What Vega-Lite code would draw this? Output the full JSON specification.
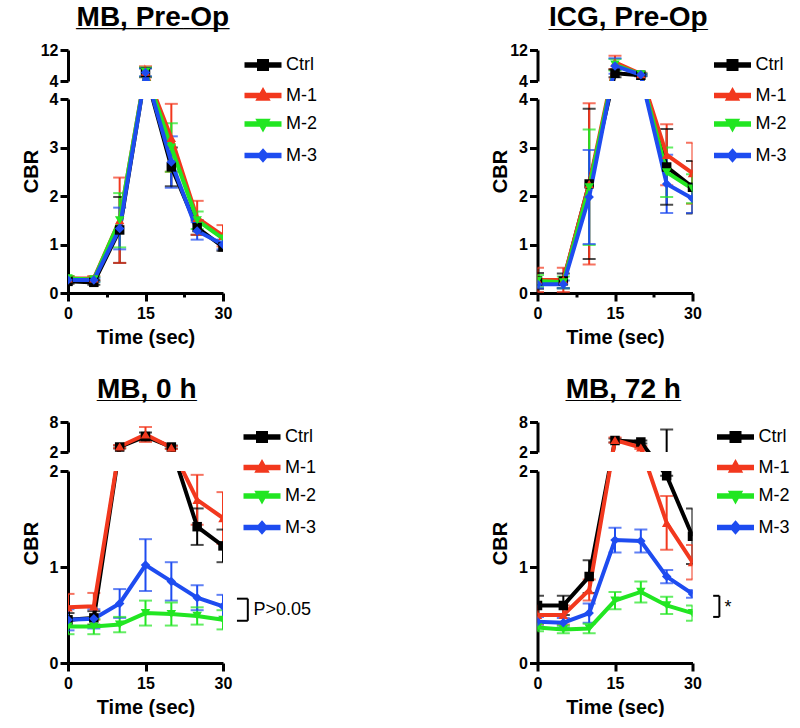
{
"$schema": "https://vega.github.io/schema/vega-lite/v6.json",
"padding": {"left": 21, "top": 4, "right": 0, "bottom": 0},
"background": "white",
"config": {
  "view": {"stroke": null},
  "font": "Liberation Sans",
  "line": {"strokeWidth": 4},
  "rule": {"strokeWidth": 2},
  "point": {"size": 90, "filled": true, "opacity": 1, "strokeWidth": 0},
  "axis": {"domainColor": "black", "domainWidth": 3, "tickColor": "black", "tickWidth": 3, "tickSize": 8, "labelFont": "Liberation Sans", "labelFontSize": 16, "labelFontWeight": "bold", "labelColor": "black", "labelPadding": 2, "titleFont": "Liberation Sans", "titleFontSize": 20, "titleFontWeight": "bold", "titleColor": "black", "grid": false, "labelFlush": false, "labelOverlap": false},
  "title": {"font": "Liberation Sans", "fontSize": 28, "fontWeight": "bold", "color": "black", "anchor": "middle", "subtitleFont": "Liberation Sans", "subtitleFontWeight": "bold", "subtitleColor": "black"},
  "legend": {"labelFont": "Liberation Sans", "labelFontSize": 18, "labelColor": "black", "labelFontWeight": "normal"}
},
"datasets": {
  "A": [
    {"s":"Ctrl","t":0,"v":0.24,"lo":0.19,"hi":0.29},{"s":"Ctrl","t":5,"v":0.22,"lo":0.17,"hi":0.27},{"s":"Ctrl","t":10,"v":1.3,"lo":0.62,"hi":1.98},{"s":"Ctrl","t":15,"v":6.2,"lo":5.0,"hi":7.4},{"s":"Ctrl","t":20,"v":2.6,"lo":2.2,"hi":3.0},{"s":"Ctrl","t":25,"v":1.35,"lo":1.2,"hi":1.5},{"s":"Ctrl","t":30,"v":0.95,"lo":0.87,"hi":1.03},
    {"s":"M-1","t":0,"v":0.3,"lo":0.25,"hi":0.35},{"s":"M-1","t":5,"v":0.3,"lo":0.25,"hi":0.35},{"s":"M-1","t":10,"v":1.5,"lo":0.62,"hi":2.38},{"s":"M-1","t":15,"v":6.4,"lo":5.0,"hi":7.8},{"s":"M-1","t":20,"v":3.2,"lo":2.5,"hi":3.9},{"s":"M-1","t":25,"v":1.55,"lo":1.2,"hi":1.9},{"s":"M-1","t":30,"v":1.18,"lo":0.96,"hi":1.4},
    {"s":"M-2","t":0,"v":0.3,"lo":0.25,"hi":0.35},{"s":"M-2","t":5,"v":0.28,"lo":0.23,"hi":0.33},{"s":"M-2","t":10,"v":1.5,"lo":0.94,"hi":2.06},{"s":"M-2","t":15,"v":6.3,"lo":5.1,"hi":7.5},{"s":"M-2","t":20,"v":3.0,"lo":2.5,"hi":3.5},{"s":"M-2","t":25,"v":1.5,"lo":1.32,"hi":1.68},{"s":"M-2","t":30,"v":1.12,"lo":1.04,"hi":1.2},
    {"s":"M-3","t":0,"v":0.27,"lo":0.23,"hi":0.31},{"s":"M-3","t":5,"v":0.27,"lo":0.23,"hi":0.31},{"s":"M-3","t":10,"v":1.33,"lo":0.9,"hi":1.76},{"s":"M-3","t":15,"v":6.2,"lo":5.2,"hi":7.2},{"s":"M-3","t":20,"v":2.7,"lo":2.17,"hi":3.23},{"s":"M-3","t":25,"v":1.28,"lo":1.1,"hi":1.46},{"s":"M-3","t":30,"v":1.0,"lo":0.9,"hi":1.1}
  ],
  "B": [
    {"s":"Ctrl","t":0,"v":0.25,"lo":0.09,"hi":0.41},{"s":"Ctrl","t":5,"v":0.25,"lo":0.1,"hi":0.4},{"s":"Ctrl","t":10,"v":2.25,"lo":0.7,"hi":3.8},{"s":"Ctrl","t":15,"v":6.0,"lo":5.0,"hi":7.0},{"s":"Ctrl","t":20,"v":5.5,"lo":5.2,"hi":5.8},{"s":"Ctrl","t":25,"v":2.6,"lo":1.82,"hi":3.38},{"s":"Ctrl","t":30,"v":2.18,"lo":1.64,"hi":2.72},
    {"s":"M-1","t":0,"v":0.27,"lo":0.02,"hi":0.52},{"s":"M-1","t":5,"v":0.27,"lo":0.02,"hi":0.52},{"s":"M-1","t":10,"v":2.25,"lo":0.59,"hi":3.91},{"s":"M-1","t":15,"v":8.8,"lo":7.1,"hi":10.5},{"s":"M-1","t":20,"v":5.8,"lo":5.5,"hi":6.1},{"s":"M-1","t":25,"v":2.85,"lo":2.22,"hi":3.48},{"s":"M-1","t":30,"v":2.47,"lo":1.84,"hi":3.1},
    {"s":"M-2","t":0,"v":0.25,"lo":0.13,"hi":0.37},{"s":"M-2","t":5,"v":0.22,"lo":0.1,"hi":0.34},{"s":"M-2","t":10,"v":2.18,"lo":0.99,"hi":3.37},{"s":"M-2","t":15,"v":8.2,"lo":6.7,"hi":9.7},{"s":"M-2","t":20,"v":5.7,"lo":5.4,"hi":6.0},{"s":"M-2","t":25,"v":2.49,"lo":1.98,"hi":3.0},{"s":"M-2","t":30,"v":2.15,"lo":1.85,"hi":2.45},
    {"s":"M-3","t":0,"v":0.18,"lo":0.1,"hi":0.26},{"s":"M-3","t":5,"v":0.18,"lo":0.1,"hi":0.26},{"s":"M-3","t":10,"v":1.98,"lo":1.01,"hi":2.95},{"s":"M-3","t":15,"v":7.9,"lo":5.9,"hi":9.9},{"s":"M-3","t":20,"v":5.6,"lo":5.3,"hi":5.9},{"s":"M-3","t":25,"v":2.25,"lo":1.65,"hi":2.85},{"s":"M-3","t":30,"v":1.95,"lo":1.65,"hi":2.25}
  ],
  "C": [
    {"s":"Ctrl","t":0,"v":0.45,"lo":0.38,"hi":0.52},{"s":"Ctrl","t":5,"v":0.47,"lo":0.4,"hi":0.54},{"s":"Ctrl","t":10,"v":3.0,"lo":2.7,"hi":3.3},{"s":"Ctrl","t":15,"v":5.1,"lo":4.3,"hi":5.9},{"s":"Ctrl","t":20,"v":3.0,"lo":2.7,"hi":3.3},{"s":"Ctrl","t":25,"v":1.42,"lo":1.23,"hi":1.61},{"s":"Ctrl","t":30,"v":1.22,"lo":1.05,"hi":1.39},
    {"s":"M-1","t":0,"v":0.58,"lo":0.44,"hi":0.72},{"s":"M-1","t":5,"v":0.59,"lo":0.45,"hi":0.73},{"s":"M-1","t":10,"v":3.1,"lo":2.8,"hi":3.4},{"s":"M-1","t":15,"v":5.5,"lo":4.0,"hi":7.0},{"s":"M-1","t":20,"v":2.9,"lo":2.6,"hi":3.2},{"s":"M-1","t":25,"v":1.7,"lo":1.44,"hi":1.96},{"s":"M-1","t":30,"v":1.51,"lo":1.24,"hi":1.78},
    {"s":"M-2","t":0,"v":0.38,"lo":0.3,"hi":0.46},{"s":"M-2","t":5,"v":0.38,"lo":0.3,"hi":0.46},{"s":"M-2","t":10,"v":0.4,"lo":0.32,"hi":0.48},{"s":"M-2","t":15,"v":0.52,"lo":0.39,"hi":0.65},{"s":"M-2","t":20,"v":0.51,"lo":0.39,"hi":0.63},{"s":"M-2","t":25,"v":0.49,"lo":0.4,"hi":0.58},{"s":"M-2","t":30,"v":0.45,"lo":0.35,"hi":0.55},
    {"s":"M-3","t":0,"v":0.45,"lo":0.34,"hi":0.56},{"s":"M-3","t":5,"v":0.46,"lo":0.36,"hi":0.56},{"s":"M-3","t":10,"v":0.62,"lo":0.47,"hi":0.77},{"s":"M-3","t":15,"v":1.02,"lo":0.75,"hi":1.29},{"s":"M-3","t":20,"v":0.85,"lo":0.65,"hi":1.05},{"s":"M-3","t":25,"v":0.68,"lo":0.55,"hi":0.81},{"s":"M-3","t":30,"v":0.59,"lo":0.47,"hi":0.71}
  ],
  "D": [
    {"s":"Ctrl","t":0,"v":0.6,"lo":0.5,"hi":0.7},{"s":"Ctrl","t":5,"v":0.6,"lo":0.5,"hi":0.7},{"s":"Ctrl","t":10,"v":0.9,"lo":0.73,"hi":1.07},{"s":"Ctrl","t":15,"v":4.3,"lo":3.9,"hi":4.7},{"s":"Ctrl","t":20,"v":4.0,"lo":3.7,"hi":4.3},{"s":"Ctrl","t":25,"v":1.95,"lo":1.95,"hi":6.5},{"s":"Ctrl","t":30,"v":1.32,"lo":1.03,"hi":1.61},
    {"s":"M-1","t":0,"v":0.5,"lo":0.4,"hi":0.6},{"s":"M-1","t":5,"v":0.5,"lo":0.4,"hi":0.6},{"s":"M-1","t":10,"v":0.76,"lo":0.65,"hi":0.87},{"s":"M-1","t":15,"v":4.4,"lo":3.9,"hi":4.9},{"s":"M-1","t":20,"v":2.9,"lo":2.6,"hi":3.2},{"s":"M-1","t":25,"v":1.46,"lo":1.18,"hi":1.74},{"s":"M-1","t":30,"v":1.05,"lo":0.87,"hi":1.23},
    {"s":"M-2","t":0,"v":0.37,"lo":0.33,"hi":0.41},{"s":"M-2","t":5,"v":0.35,"lo":0.31,"hi":0.39},{"s":"M-2","t":10,"v":0.36,"lo":0.31,"hi":0.41},{"s":"M-2","t":15,"v":0.65,"lo":0.56,"hi":0.74},{"s":"M-2","t":20,"v":0.74,"lo":0.63,"hi":0.85},{"s":"M-2","t":25,"v":0.6,"lo":0.51,"hi":0.69},{"s":"M-2","t":30,"v":0.52,"lo":0.44,"hi":0.6},
    {"s":"M-3","t":0,"v":0.43,"lo":0.38,"hi":0.48},{"s":"M-3","t":5,"v":0.42,"lo":0.37,"hi":0.47},{"s":"M-3","t":10,"v":0.52,"lo":0.42,"hi":0.62},{"s":"M-3","t":15,"v":1.28,"lo":1.15,"hi":1.41},{"s":"M-3","t":20,"v":1.27,"lo":1.15,"hi":1.39},{"s":"M-3","t":25,"v":0.9,"lo":0.83,"hi":0.97},{"s":"M-3","t":30,"v":0.72,"lo":0.68,"hi":0.76}
  ]
},
"columns": 2,
"spacing": {"column": 167.5, "row": 29},
"resolve": {"scale": {"color": "independent", "shape": "independent"}, "legend": {"color": "independent", "shape": "independent"}},
"concat": [
 {
  "title": {"text": "MB, Pre-Op", "subtitle": "__________", "subtitleFontSize": 27.5, "subtitlePadding": -28, "offset": 10, "dx": -19.25},
  "spacing": 18, "bounds": "flush",
  "vconcat": [
   {
    "width": 155, "height": 31, "data": {"name": "A"},
    "layer": [
     {"encoding": {
        "x": {"field": "t", "type": "quantitative", "scale": {"domain": [0, 30], "nice": false, "zero": false}, "axis": null},
        "color": {"field": "s", "type": "nominal", "scale": {"domain": ["Ctrl","M-1","M-2","M-3"], "range": ["#000000","#F2381E","#22E622","#1E4CF0"]}}
      },
      "layer": [
       {"mark": {"type": "rule", "clip": true}, "encoding": {"y": {"field": "lo", "type": "quantitative", "scale": {"domain": [0, 3.9999, 4, 12], "range": [243, 49, 31, 0], "nice": false, "zero": false}, "axis": null}, "y2": {"field": "hi"}}},
       {"mark": {"type": "tick", "orient": "horizontal", "size": 13, "thickness": 2, "clip": true}, "encoding": {"y": {"field": "lo", "type": "quantitative", "scale": {"domain": [0, 3.9999, 4, 12], "range": [243, 49, 31, 0], "nice": false, "zero": false}, "axis": null}}},
       {"mark": {"type": "tick", "orient": "horizontal", "size": 13, "thickness": 2, "clip": true}, "encoding": {"y": {"field": "hi", "type": "quantitative", "scale": {"domain": [0, 3.9999, 4, 12], "range": [243, 49, 31, 0], "nice": false, "zero": false}, "axis": null}}},
       {"mark": {"type": "line", "clip": true}, "encoding": {"y": {"field": "v", "type": "quantitative", "scale": {"domain": [0, 3.9999, 4, 12], "range": [243, 49, 31, 0], "nice": false, "zero": false}, "axis": null}}}
      ]
     },
     {"encoding": {
        "x": {"field": "t", "type": "quantitative", "scale": {"domain": [0, 30], "nice": false, "zero": false}, "axis": null},
        "y": {"field": "v", "type": "quantitative", "scale": {"domain": [4, 12], "nice": false, "zero": false}, "axis": {"values": [4, 12], "title": null, "format": "d"}},
        "color": {"field": "s", "type": "nominal", "scale": {"domain": ["Ctrl","M-1","M-2","M-3"], "range": ["#000000","#F2381E","#22E622","#1E4CF0"]},
          "legend": {"title": null, "orient": "right", "offset": 15.5, "padding": 6, "symbolSize": 100, "symbolStrokeWidth": 0, "symbolOpacity": 1, "rowPadding": 10.5, "labelOffset": 14}}
      },
      "layer": [
       {"mark": {"type": "point", "opacity": 0, "clip": true}, "encoding": {"shape": {"field": "s", "type": "nominal", "scale": {"domain": ["Ctrl","M-1","M-2","M-3"], "range": ["M-3.5,-0.35H3.5V0.35H-3.5Z M-1,-1H1V1H-1Z", "M-3.5,-0.35H3.5V0.35H-3.5Z M0,-1.3L1.2,0.85H-1.2Z", "M-3.5,-0.35H3.5V0.35H-3.5Z M-1.2,-0.85H1.2L0,1.3Z", "M-3.5,-0.35H3.5V0.35H-3.5Z M0,-1.15L1,0L0,1.15L-1,0Z"]}, "legend": null}}},
       {"mark": {"type": "point", "shape": "square", "clip": true}, "transform": [{"filter": "datum.s === 'Ctrl' && datum.v >= 4"}]},
       {"mark": {"type": "point", "shape": "triangle-up", "clip": true}, "transform": [{"filter": "datum.s === 'M-1' && datum.v >= 4"}]},
       {"mark": {"type": "point", "shape": "triangle-down", "clip": true}, "transform": [{"filter": "datum.s === 'M-2' && datum.v >= 4"}]},
       {"mark": {"type": "point", "shape": "diamond", "clip": true}, "transform": [{"filter": "datum.s === 'M-3' && datum.v >= 4"}]}
      ]
     }
    ],
    "resolve": {"scale": {"y": "independent"}}
   },
   {
    "width": 155, "height": 194, "data": {"name": "A"},
    "layer": [
     {"encoding": {
        "x": {"field": "t", "type": "quantitative", "scale": {"domain": [0, 30], "nice": false, "zero": false}, "axis": {"values": [0, 7.5, 15, 22.5, 30], "labelExpr": "datum.value % 15 === 0 ? datum.label : ''", "tickSize": {"condition": {"test": "datum.value % 15 === 0", "value": 8}, "value": 4}, "title": "Time (sec)", "labelPadding": 4, "titlePadding": 6}},
        "color": {"field": "s", "type": "nominal", "scale": {"domain": ["Ctrl","M-1","M-2","M-3"], "range": ["#000000","#F2381E","#22E622","#1E4CF0"]}}
      },
      "layer": [
       {"mark": {"type": "rule", "clip": true}, "encoding": {"y": {"field": "lo", "type": "quantitative", "scale": {"domain": [0, 4, 4.0001, 12], "range": [194, 0, -18, -49], "nice": false, "zero": false}, "axis": null}, "y2": {"field": "hi"}}},
       {"mark": {"type": "tick", "orient": "horizontal", "size": 13, "thickness": 2, "clip": true}, "encoding": {"y": {"field": "lo", "type": "quantitative", "scale": {"domain": [0, 4, 4.0001, 12], "range": [194, 0, -18, -49], "nice": false, "zero": false}, "axis": null}}},
       {"mark": {"type": "tick", "orient": "horizontal", "size": 13, "thickness": 2, "clip": true}, "encoding": {"y": {"field": "hi", "type": "quantitative", "scale": {"domain": [0, 4, 4.0001, 12], "range": [194, 0, -18, -49], "nice": false, "zero": false}, "axis": null}}},
       {"mark": {"type": "line", "clip": true}, "encoding": {"y": {"field": "v", "type": "quantitative", "scale": {"domain": [0, 4, 4.0001, 12], "range": [194, 0, -18, -49], "nice": false, "zero": false}, "axis": null}}}
      ]
     },
     {"encoding": {
        "x": {"field": "t", "type": "quantitative", "scale": {"domain": [0, 30], "nice": false, "zero": false}, "axis": {"values": [0, 7.5, 15, 22.5, 30], "labelExpr": "datum.value % 15 === 0 ? datum.label : ''", "tickSize": {"condition": {"test": "datum.value % 15 === 0", "value": 8}, "value": 4}, "title": "Time (sec)", "labelPadding": 4, "titlePadding": 6}},
        "y": {"field": "v", "type": "quantitative", "scale": {"domain": [0, 4], "nice": false, "zero": false}, "axis": {"values": [0, 1, 2, 3, 4], "format": ".0f", "title": "CBR", "titleY": 72, "titlePadding": 8}},
        "color": {"field": "s", "type": "nominal", "scale": {"domain": ["Ctrl","M-1","M-2","M-3"], "range": ["#000000","#F2381E","#22E622","#1E4CF0"]}}
      },
      "layer": [
       {"mark": {"type": "point", "opacity": 0, "clip": true}, "encoding": {"shape": {"field": "s", "type": "nominal", "scale": {"domain": ["Ctrl","M-1","M-2","M-3"], "range": ["M-3.5,-0.35H3.5V0.35H-3.5Z M-1,-1H1V1H-1Z", "M-3.5,-0.35H3.5V0.35H-3.5Z M0,-1.3L1.2,0.85H-1.2Z", "M-3.5,-0.35H3.5V0.35H-3.5Z M-1.2,-0.85H1.2L0,1.3Z", "M-3.5,-0.35H3.5V0.35H-3.5Z M0,-1.15L1,0L0,1.15L-1,0Z"]}, "legend": null}}},
       {"mark": {"type": "point", "shape": "square", "clip": true}, "transform": [{"filter": "datum.s === 'Ctrl' && datum.v <= 4"}]},
       {"mark": {"type": "point", "shape": "triangle-up", "clip": true}, "transform": [{"filter": "datum.s === 'M-1' && datum.v <= 4"}]},
       {"mark": {"type": "point", "shape": "triangle-down", "clip": true}, "transform": [{"filter": "datum.s === 'M-2' && datum.v <= 4"}]},
       {"mark": {"type": "point", "shape": "diamond", "clip": true}, "transform": [{"filter": "datum.s === 'M-3' && datum.v <= 4"}]}
      ]
     }
    ],
    "resolve": {"scale": {"y": "independent"}}
   }
  ]
 },
 {
  "title": {"text": "ICG, Pre-Op", "subtitle": "___________", "subtitleFontSize": 26, "subtitlePadding": -26.5, "offset": 10, "dx": -13.25},
  "spacing": 18, "bounds": "flush",
  "vconcat": [
   {
    "width": 155, "height": 31, "data": {"name": "B"},
    "layer": [
     {"encoding": {
        "x": {"field": "t", "type": "quantitative", "scale": {"domain": [0, 30], "nice": false, "zero": false}, "axis": null},
        "color": {"field": "s", "type": "nominal", "scale": {"domain": ["Ctrl","M-1","M-2","M-3"], "range": ["#000000","#F2381E","#22E622","#1E4CF0"]}}
      },
      "layer": [
       {"mark": {"type": "rule", "clip": true}, "encoding": {"y": {"field": "lo", "type": "quantitative", "scale": {"domain": [0, 3.9999, 4, 12], "range": [243, 49, 31, 0], "nice": false, "zero": false}, "axis": null}, "y2": {"field": "hi"}}},
       {"mark": {"type": "tick", "orient": "horizontal", "size": 13, "thickness": 2, "clip": true}, "encoding": {"y": {"field": "lo", "type": "quantitative", "scale": {"domain": [0, 3.9999, 4, 12], "range": [243, 49, 31, 0], "nice": false, "zero": false}, "axis": null}}},
       {"mark": {"type": "tick", "orient": "horizontal", "size": 13, "thickness": 2, "clip": true}, "encoding": {"y": {"field": "hi", "type": "quantitative", "scale": {"domain": [0, 3.9999, 4, 12], "range": [243, 49, 31, 0], "nice": false, "zero": false}, "axis": null}}},
       {"mark": {"type": "line", "clip": true}, "encoding": {"y": {"field": "v", "type": "quantitative", "scale": {"domain": [0, 3.9999, 4, 12], "range": [243, 49, 31, 0], "nice": false, "zero": false}, "axis": null}}}
      ]
     },
     {"encoding": {
        "x": {"field": "t", "type": "quantitative", "scale": {"domain": [0, 30], "nice": false, "zero": false}, "axis": null},
        "y": {"field": "v", "type": "quantitative", "scale": {"domain": [4, 12], "nice": false, "zero": false}, "axis": {"values": [4, 12], "title": null, "format": "d"}},
        "color": {"field": "s", "type": "nominal", "scale": {"domain": ["Ctrl","M-1","M-2","M-3"], "range": ["#000000","#F2381E","#22E622","#1E4CF0"]},
          "legend": {"title": null, "orient": "right", "offset": 15.5, "padding": 6, "symbolSize": 100, "symbolStrokeWidth": 0, "symbolOpacity": 1, "rowPadding": 10.5, "labelOffset": 14}}
      },
      "layer": [
       {"mark": {"type": "point", "opacity": 0, "clip": true}, "encoding": {"shape": {"field": "s", "type": "nominal", "scale": {"domain": ["Ctrl","M-1","M-2","M-3"], "range": ["M-3.5,-0.35H3.5V0.35H-3.5Z M-1,-1H1V1H-1Z", "M-3.5,-0.35H3.5V0.35H-3.5Z M0,-1.3L1.2,0.85H-1.2Z", "M-3.5,-0.35H3.5V0.35H-3.5Z M-1.2,-0.85H1.2L0,1.3Z", "M-3.5,-0.35H3.5V0.35H-3.5Z M0,-1.15L1,0L0,1.15L-1,0Z"]}, "legend": null}}},
       {"mark": {"type": "point", "shape": "square", "clip": true}, "transform": [{"filter": "datum.s === 'Ctrl' && datum.v >= 4"}]},
       {"mark": {"type": "point", "shape": "triangle-up", "clip": true}, "transform": [{"filter": "datum.s === 'M-1' && datum.v >= 4"}]},
       {"mark": {"type": "point", "shape": "triangle-down", "clip": true}, "transform": [{"filter": "datum.s === 'M-2' && datum.v >= 4"}]},
       {"mark": {"type": "point", "shape": "diamond", "clip": true}, "transform": [{"filter": "datum.s === 'M-3' && datum.v >= 4"}]}
      ]
     }
    ],
    "resolve": {"scale": {"y": "independent"}}
   },
   {
    "width": 155, "height": 194, "data": {"name": "B"},
    "layer": [
     {"encoding": {
        "x": {"field": "t", "type": "quantitative", "scale": {"domain": [0, 30], "nice": false, "zero": false}, "axis": {"values": [0, 7.5, 15, 22.5, 30], "labelExpr": "datum.value % 15 === 0 ? datum.label : ''", "tickSize": {"condition": {"test": "datum.value % 15 === 0", "value": 8}, "value": 4}, "title": "Time (sec)", "labelPadding": 4, "titlePadding": 6}},
        "color": {"field": "s", "type": "nominal", "scale": {"domain": ["Ctrl","M-1","M-2","M-3"], "range": ["#000000","#F2381E","#22E622","#1E4CF0"]}}
      },
      "layer": [
       {"mark": {"type": "rule", "clip": true}, "encoding": {"y": {"field": "lo", "type": "quantitative", "scale": {"domain": [0, 4, 4.0001, 12], "range": [194, 0, -18, -49], "nice": false, "zero": false}, "axis": null}, "y2": {"field": "hi"}}},
       {"mark": {"type": "tick", "orient": "horizontal", "size": 13, "thickness": 2, "clip": true}, "encoding": {"y": {"field": "lo", "type": "quantitative", "scale": {"domain": [0, 4, 4.0001, 12], "range": [194, 0, -18, -49], "nice": false, "zero": false}, "axis": null}}},
       {"mark": {"type": "tick", "orient": "horizontal", "size": 13, "thickness": 2, "clip": true}, "encoding": {"y": {"field": "hi", "type": "quantitative", "scale": {"domain": [0, 4, 4.0001, 12], "range": [194, 0, -18, -49], "nice": false, "zero": false}, "axis": null}}},
       {"mark": {"type": "line", "clip": true}, "encoding": {"y": {"field": "v", "type": "quantitative", "scale": {"domain": [0, 4, 4.0001, 12], "range": [194, 0, -18, -49], "nice": false, "zero": false}, "axis": null}}}
      ]
     },
     {"encoding": {
        "x": {"field": "t", "type": "quantitative", "scale": {"domain": [0, 30], "nice": false, "zero": false}, "axis": {"values": [0, 7.5, 15, 22.5, 30], "labelExpr": "datum.value % 15 === 0 ? datum.label : ''", "tickSize": {"condition": {"test": "datum.value % 15 === 0", "value": 8}, "value": 4}, "title": "Time (sec)", "labelPadding": 4, "titlePadding": 6}},
        "y": {"field": "v", "type": "quantitative", "scale": {"domain": [0, 4], "nice": false, "zero": false}, "axis": {"values": [0, 1, 2, 3, 4], "format": ".0f", "title": "CBR", "titleY": 72, "titlePadding": 8}},
        "color": {"field": "s", "type": "nominal", "scale": {"domain": ["Ctrl","M-1","M-2","M-3"], "range": ["#000000","#F2381E","#22E622","#1E4CF0"]}}
      },
      "layer": [
       {"mark": {"type": "point", "opacity": 0, "clip": true}, "encoding": {"shape": {"field": "s", "type": "nominal", "scale": {"domain": ["Ctrl","M-1","M-2","M-3"], "range": ["M-3.5,-0.35H3.5V0.35H-3.5Z M-1,-1H1V1H-1Z", "M-3.5,-0.35H3.5V0.35H-3.5Z M0,-1.3L1.2,0.85H-1.2Z", "M-3.5,-0.35H3.5V0.35H-3.5Z M-1.2,-0.85H1.2L0,1.3Z", "M-3.5,-0.35H3.5V0.35H-3.5Z M0,-1.15L1,0L0,1.15L-1,0Z"]}, "legend": null}}},
       {"mark": {"type": "point", "shape": "square", "clip": true}, "transform": [{"filter": "datum.s === 'Ctrl' && datum.v <= 4"}]},
       {"mark": {"type": "point", "shape": "triangle-up", "clip": true}, "transform": [{"filter": "datum.s === 'M-1' && datum.v <= 4"}]},
       {"mark": {"type": "point", "shape": "triangle-down", "clip": true}, "transform": [{"filter": "datum.s === 'M-2' && datum.v <= 4"}]},
       {"mark": {"type": "point", "shape": "diamond", "clip": true}, "transform": [{"filter": "datum.s === 'M-3' && datum.v <= 4"}]}
      ]
     }
    ],
    "resolve": {"scale": {"y": "independent"}}
   }
  ]
 },
 {
  "title": {"text": "MB, 0 h", "subtitle": "_______", "subtitleFontSize": 25.6, "subtitlePadding": -26, "offset": 10, "dx": -24.75},
  "spacing": 19, "bounds": "flush",
  "vconcat": [
   {
    "width": 155, "height": 30, "data": {"name": "C"},
    "layer": [
     {"encoding": {
        "x": {"field": "t", "type": "quantitative", "scale": {"domain": [0, 30], "nice": false, "zero": false}, "axis": null},
        "color": {"field": "s", "type": "nominal", "scale": {"domain": ["Ctrl","M-1","M-2","M-3"], "range": ["#000000","#F2381E","#22E622","#1E4CF0"]}}
      },
      "layer": [
       {"mark": {"type": "rule", "clip": true}, "encoding": {"y": {"field": "lo", "type": "quantitative", "scale": {"domain": [0, 1.9999, 2, 8], "range": [241, 49, 30, 0], "nice": false, "zero": false}, "axis": null}, "y2": {"field": "hi"}}},
       {"mark": {"type": "tick", "orient": "horizontal", "size": 13, "thickness": 2, "clip": true}, "encoding": {"y": {"field": "lo", "type": "quantitative", "scale": {"domain": [0, 1.9999, 2, 8], "range": [241, 49, 30, 0], "nice": false, "zero": false}, "axis": null}}},
       {"mark": {"type": "tick", "orient": "horizontal", "size": 13, "thickness": 2, "clip": true}, "encoding": {"y": {"field": "hi", "type": "quantitative", "scale": {"domain": [0, 1.9999, 2, 8], "range": [241, 49, 30, 0], "nice": false, "zero": false}, "axis": null}}},
       {"mark": {"type": "line", "clip": true}, "encoding": {"y": {"field": "v", "type": "quantitative", "scale": {"domain": [0, 1.9999, 2, 8], "range": [241, 49, 30, 0], "nice": false, "zero": false}, "axis": null}}}
      ]
     },
     {"encoding": {
        "x": {"field": "t", "type": "quantitative", "scale": {"domain": [0, 30], "nice": false, "zero": false}, "axis": null},
        "y": {"field": "v", "type": "quantitative", "scale": {"domain": [2, 8], "nice": false, "zero": false}, "axis": {"values": [2, 8], "title": null, "format": "d"}},
        "color": {"field": "s", "type": "nominal", "scale": {"domain": ["Ctrl","M-1","M-2","M-3"], "range": ["#000000","#F2381E","#22E622","#1E4CF0"]},
          "legend": {"title": null, "orient": "right", "offset": -65.5, "padding": 6, "symbolSize": 100, "symbolStrokeWidth": 0, "symbolOpacity": 1, "rowPadding": 10.5, "labelOffset": 14}}
      },
      "layer": [
       {"mark": {"type": "point", "opacity": 0, "clip": true}, "encoding": {"shape": {"field": "s", "type": "nominal", "scale": {"domain": ["Ctrl","M-1","M-2","M-3"], "range": ["M-3.5,-0.35H3.5V0.35H-3.5Z M-1,-1H1V1H-1Z", "M-3.5,-0.35H3.5V0.35H-3.5Z M0,-1.3L1.2,0.85H-1.2Z", "M-3.5,-0.35H3.5V0.35H-3.5Z M-1.2,-0.85H1.2L0,1.3Z", "M-3.5,-0.35H3.5V0.35H-3.5Z M0,-1.15L1,0L0,1.15L-1,0Z"]}, "legend": null}}},
       {"mark": {"type": "point", "shape": "square", "clip": true}, "transform": [{"filter": "datum.s === 'Ctrl' && datum.v >= 2"}]},
       {"mark": {"type": "point", "shape": "triangle-up", "clip": true}, "transform": [{"filter": "datum.s === 'M-1' && datum.v >= 2"}]},
       {"mark": {"type": "point", "shape": "triangle-down", "clip": true}, "transform": [{"filter": "datum.s === 'M-2' && datum.v >= 2"}]},
       {"mark": {"type": "point", "shape": "diamond", "clip": true}, "transform": [{"filter": "datum.s === 'M-3' && datum.v >= 2"}]}
      ]
     }
    ],
    "resolve": {"scale": {"y": "independent"}}
   },
   {
    "width": 155, "height": 192, "data": {"name": "C"},
    "layer": [
     {"encoding": {
        "x": {"field": "t", "type": "quantitative", "scale": {"domain": [0, 30], "nice": false, "zero": false}, "axis": {"values": [0, 7.5, 15, 22.5, 30], "labelExpr": "datum.value % 15 === 0 ? datum.label : ''", "tickSize": {"condition": {"test": "datum.value % 15 === 0", "value": 8}, "value": 4}, "title": "Time (sec)", "labelPadding": 4, "titlePadding": 6}},
        "color": {"field": "s", "type": "nominal", "scale": {"domain": ["Ctrl","M-1","M-2","M-3"], "range": ["#000000","#F2381E","#22E622","#1E4CF0"]}}
      },
      "layer": [
       {"mark": {"type": "rule", "clip": true}, "encoding": {"y": {"field": "lo", "type": "quantitative", "scale": {"domain": [0, 2, 2.0001, 8], "range": [192, 0, -19, -49], "nice": false, "zero": false}, "axis": null}, "y2": {"field": "hi"}}},
       {"mark": {"type": "tick", "orient": "horizontal", "size": 13, "thickness": 2, "clip": true}, "encoding": {"y": {"field": "lo", "type": "quantitative", "scale": {"domain": [0, 2, 2.0001, 8], "range": [192, 0, -19, -49], "nice": false, "zero": false}, "axis": null}}},
       {"mark": {"type": "tick", "orient": "horizontal", "size": 13, "thickness": 2, "clip": true}, "encoding": {"y": {"field": "hi", "type": "quantitative", "scale": {"domain": [0, 2, 2.0001, 8], "range": [192, 0, -19, -49], "nice": false, "zero": false}, "axis": null}}},
       {"mark": {"type": "line", "clip": true}, "encoding": {"y": {"field": "v", "type": "quantitative", "scale": {"domain": [0, 2, 2.0001, 8], "range": [192, 0, -19, -49], "nice": false, "zero": false}, "axis": null}}}
      ]
     },
     {"encoding": {
        "x": {"field": "t", "type": "quantitative", "scale": {"domain": [0, 30], "nice": false, "zero": false}, "axis": {"values": [0, 7.5, 15, 22.5, 30], "labelExpr": "datum.value % 15 === 0 ? datum.label : ''", "tickSize": {"condition": {"test": "datum.value % 15 === 0", "value": 8}, "value": 4}, "title": "Time (sec)", "labelPadding": 4, "titlePadding": 6}},
        "y": {"field": "v", "type": "quantitative", "scale": {"domain": [0, 2], "nice": false, "zero": false}, "axis": {"values": [0, 1, 2], "format": ".0f", "title": "CBR", "titleY": 72, "titlePadding": 8}},
        "color": {"field": "s", "type": "nominal", "scale": {"domain": ["Ctrl","M-1","M-2","M-3"], "range": ["#000000","#F2381E","#22E622","#1E4CF0"]}}
      },
      "layer": [
       {"mark": {"type": "point", "opacity": 0, "clip": true}, "encoding": {"shape": {"field": "s", "type": "nominal", "scale": {"domain": ["Ctrl","M-1","M-2","M-3"], "range": ["M-3.5,-0.35H3.5V0.35H-3.5Z M-1,-1H1V1H-1Z", "M-3.5,-0.35H3.5V0.35H-3.5Z M0,-1.3L1.2,0.85H-1.2Z", "M-3.5,-0.35H3.5V0.35H-3.5Z M-1.2,-0.85H1.2L0,1.3Z", "M-3.5,-0.35H3.5V0.35H-3.5Z M0,-1.15L1,0L0,1.15L-1,0Z"]}, "legend": null}}},
       {"mark": {"type": "point", "shape": "square", "clip": true}, "transform": [{"filter": "datum.s === 'Ctrl' && datum.v <= 2"}]},
       {"mark": {"type": "point", "shape": "triangle-up", "clip": true}, "transform": [{"filter": "datum.s === 'M-1' && datum.v <= 2"}]},
       {"mark": {"type": "point", "shape": "triangle-down", "clip": true}, "transform": [{"filter": "datum.s === 'M-2' && datum.v <= 2"}]},
       {"mark": {"type": "point", "shape": "diamond", "clip": true}, "transform": [{"filter": "datum.s === 'M-3' && datum.v <= 2"}]}
      ]
     },
     {"data": {"values": [{"t": 34.8, "t1": 32.7, "a": 0.44, "b": 0.67, "tx": 35.9, "ym": 0.555, "label": "P>0.05"}]},
      "encoding": {"y": {"field": "a", "type": "quantitative", "scale": {"domain": [0, 2], "nice": false, "zero": false}, "axis": null}},
      "layer": [
       {"mark": {"type": "rule", "color": "black", "clip": false}, "encoding": {"x": {"field": "t", "type": "quantitative"}, "y2": {"field": "b"}}},
       {"mark": {"type": "rule", "color": "black", "clip": false}, "encoding": {"x": {"field": "t1", "type": "quantitative"}, "x2": {"field": "t"}}},
       {"mark": {"type": "rule", "color": "black", "clip": false}, "encoding": {"x": {"field": "t1", "type": "quantitative"}, "x2": {"field": "t"}, "y": {"field": "b", "type": "quantitative", "scale": {"domain": [0, 2], "nice": false, "zero": false}, "axis": null}}},
       {"mark": {"type": "text", "align": "left", "baseline": "middle", "fontSize": 18, "font": "Liberation Sans", "color": "black", "clip": false}, "encoding": {"x": {"field": "tx", "type": "quantitative"}, "y": {"field": "ym", "type": "quantitative", "scale": {"domain": [0, 2], "nice": false, "zero": false}, "axis": null}, "text": {"field": "label"}}}
      ]
     }
    ],
    "resolve": {"scale": {"y": "independent"}}
   }
  ]
 },
 {
  "title": {"text": "MB, 72 h", "subtitle": "________", "subtitleFontSize": 25.9, "subtitlePadding": -26.5, "offset": 10, "dx": -19.75},
  "spacing": 19, "bounds": "flush",
  "vconcat": [
   {
    "width": 155, "height": 30, "data": {"name": "D"},
    "layer": [
     {"encoding": {
        "x": {"field": "t", "type": "quantitative", "scale": {"domain": [0, 30], "nice": false, "zero": false}, "axis": null},
        "color": {"field": "s", "type": "nominal", "scale": {"domain": ["Ctrl","M-1","M-2","M-3"], "range": ["#000000","#F2381E","#22E622","#1E4CF0"]}}
      },
      "layer": [
       {"mark": {"type": "rule", "clip": true}, "encoding": {"y": {"field": "lo", "type": "quantitative", "scale": {"domain": [0, 1.9999, 2, 8], "range": [241, 49, 30, 0], "nice": false, "zero": false}, "axis": null}, "y2": {"field": "hi"}}},
       {"mark": {"type": "tick", "orient": "horizontal", "size": 13, "thickness": 2, "clip": true}, "encoding": {"y": {"field": "lo", "type": "quantitative", "scale": {"domain": [0, 1.9999, 2, 8], "range": [241, 49, 30, 0], "nice": false, "zero": false}, "axis": null}}},
       {"mark": {"type": "tick", "orient": "horizontal", "size": 13, "thickness": 2, "clip": true}, "encoding": {"y": {"field": "hi", "type": "quantitative", "scale": {"domain": [0, 1.9999, 2, 8], "range": [241, 49, 30, 0], "nice": false, "zero": false}, "axis": null}}},
       {"mark": {"type": "line", "clip": true}, "encoding": {"y": {"field": "v", "type": "quantitative", "scale": {"domain": [0, 1.9999, 2, 8], "range": [241, 49, 30, 0], "nice": false, "zero": false}, "axis": null}}}
      ]
     },
     {"encoding": {
        "x": {"field": "t", "type": "quantitative", "scale": {"domain": [0, 30], "nice": false, "zero": false}, "axis": null},
        "y": {"field": "v", "type": "quantitative", "scale": {"domain": [2, 8], "nice": false, "zero": false}, "axis": {"values": [2, 8], "title": null, "format": "d"}},
        "color": {"field": "s", "type": "nominal", "scale": {"domain": ["Ctrl","M-1","M-2","M-3"], "range": ["#000000","#F2381E","#22E622","#1E4CF0"]},
          "legend": {"title": null, "orient": "right", "offset": -12.5, "padding": 6, "symbolSize": 100, "symbolStrokeWidth": 0, "symbolOpacity": 1, "rowPadding": 10.5, "labelOffset": 14}}
      },
      "layer": [
       {"mark": {"type": "point", "opacity": 0, "clip": true}, "encoding": {"shape": {"field": "s", "type": "nominal", "scale": {"domain": ["Ctrl","M-1","M-2","M-3"], "range": ["M-3.5,-0.35H3.5V0.35H-3.5Z M-1,-1H1V1H-1Z", "M-3.5,-0.35H3.5V0.35H-3.5Z M0,-1.3L1.2,0.85H-1.2Z", "M-3.5,-0.35H3.5V0.35H-3.5Z M-1.2,-0.85H1.2L0,1.3Z", "M-3.5,-0.35H3.5V0.35H-3.5Z M0,-1.15L1,0L0,1.15L-1,0Z"]}, "legend": null}}},
       {"mark": {"type": "point", "shape": "square", "clip": true}, "transform": [{"filter": "datum.s === 'Ctrl' && datum.v >= 2"}]},
       {"mark": {"type": "point", "shape": "triangle-up", "clip": true}, "transform": [{"filter": "datum.s === 'M-1' && datum.v >= 2"}]},
       {"mark": {"type": "point", "shape": "triangle-down", "clip": true}, "transform": [{"filter": "datum.s === 'M-2' && datum.v >= 2"}]},
       {"mark": {"type": "point", "shape": "diamond", "clip": true}, "transform": [{"filter": "datum.s === 'M-3' && datum.v >= 2"}]}
      ]
     }
    ],
    "resolve": {"scale": {"y": "independent"}}
   },
   {
    "width": 155, "height": 192, "data": {"name": "D"},
    "layer": [
     {"encoding": {
        "x": {"field": "t", "type": "quantitative", "scale": {"domain": [0, 30], "nice": false, "zero": false}, "axis": {"values": [0, 7.5, 15, 22.5, 30], "labelExpr": "datum.value % 15 === 0 ? datum.label : ''", "tickSize": {"condition": {"test": "datum.value % 15 === 0", "value": 8}, "value": 4}, "title": "Time (sec)", "labelPadding": 4, "titlePadding": 6}},
        "color": {"field": "s", "type": "nominal", "scale": {"domain": ["Ctrl","M-1","M-2","M-3"], "range": ["#000000","#F2381E","#22E622","#1E4CF0"]}}
      },
      "layer": [
       {"mark": {"type": "rule", "clip": true}, "encoding": {"y": {"field": "lo", "type": "quantitative", "scale": {"domain": [0, 2, 2.0001, 8], "range": [192, 0, -19, -49], "nice": false, "zero": false}, "axis": null}, "y2": {"field": "hi"}}},
       {"mark": {"type": "tick", "orient": "horizontal", "size": 13, "thickness": 2, "clip": true}, "encoding": {"y": {"field": "lo", "type": "quantitative", "scale": {"domain": [0, 2, 2.0001, 8], "range": [192, 0, -19, -49], "nice": false, "zero": false}, "axis": null}}},
       {"mark": {"type": "tick", "orient": "horizontal", "size": 13, "thickness": 2, "clip": true}, "encoding": {"y": {"field": "hi", "type": "quantitative", "scale": {"domain": [0, 2, 2.0001, 8], "range": [192, 0, -19, -49], "nice": false, "zero": false}, "axis": null}}},
       {"mark": {"type": "line", "clip": true}, "encoding": {"y": {"field": "v", "type": "quantitative", "scale": {"domain": [0, 2, 2.0001, 8], "range": [192, 0, -19, -49], "nice": false, "zero": false}, "axis": null}}}
      ]
     },
     {"encoding": {
        "x": {"field": "t", "type": "quantitative", "scale": {"domain": [0, 30], "nice": false, "zero": false}, "axis": {"values": [0, 7.5, 15, 22.5, 30], "labelExpr": "datum.value % 15 === 0 ? datum.label : ''", "tickSize": {"condition": {"test": "datum.value % 15 === 0", "value": 8}, "value": 4}, "title": "Time (sec)", "labelPadding": 4, "titlePadding": 6}},
        "y": {"field": "v", "type": "quantitative", "scale": {"domain": [0, 2], "nice": false, "zero": false}, "axis": {"values": [0, 1, 2], "format": ".0f", "title": "CBR", "titleY": 72, "titlePadding": 8}},
        "color": {"field": "s", "type": "nominal", "scale": {"domain": ["Ctrl","M-1","M-2","M-3"], "range": ["#000000","#F2381E","#22E622","#1E4CF0"]}}
      },
      "layer": [
       {"mark": {"type": "point", "opacity": 0, "clip": true}, "encoding": {"shape": {"field": "s", "type": "nominal", "scale": {"domain": ["Ctrl","M-1","M-2","M-3"], "range": ["M-3.5,-0.35H3.5V0.35H-3.5Z M-1,-1H1V1H-1Z", "M-3.5,-0.35H3.5V0.35H-3.5Z M0,-1.3L1.2,0.85H-1.2Z", "M-3.5,-0.35H3.5V0.35H-3.5Z M-1.2,-0.85H1.2L0,1.3Z", "M-3.5,-0.35H3.5V0.35H-3.5Z M0,-1.15L1,0L0,1.15L-1,0Z"]}, "legend": null}}},
       {"mark": {"type": "point", "shape": "square", "clip": true}, "transform": [{"filter": "datum.s === 'Ctrl' && datum.v <= 2"}]},
       {"mark": {"type": "point", "shape": "triangle-up", "clip": true}, "transform": [{"filter": "datum.s === 'M-1' && datum.v <= 2"}]},
       {"mark": {"type": "point", "shape": "triangle-down", "clip": true}, "transform": [{"filter": "datum.s === 'M-2' && datum.v <= 2"}]},
       {"mark": {"type": "point", "shape": "diamond", "clip": true}, "transform": [{"filter": "datum.s === 'M-3' && datum.v <= 2"}]}
      ]
     },
     {"data": {"values": [{"t": 35.2, "t1": 34.0, "a": 0.48, "b": 0.7, "tx": 36.2, "ym": 0.57, "label": "*"}]},
      "encoding": {"y": {"field": "a", "type": "quantitative", "scale": {"domain": [0, 2], "nice": false, "zero": false}, "axis": null}},
      "layer": [
       {"mark": {"type": "rule", "color": "black", "clip": false}, "encoding": {"x": {"field": "t", "type": "quantitative"}, "y2": {"field": "b"}}},
       {"mark": {"type": "rule", "color": "black", "clip": false}, "encoding": {"x": {"field": "t1", "type": "quantitative"}, "x2": {"field": "t"}}},
       {"mark": {"type": "rule", "color": "black", "clip": false}, "encoding": {"x": {"field": "t1", "type": "quantitative"}, "x2": {"field": "t"}, "y": {"field": "b", "type": "quantitative", "scale": {"domain": [0, 2], "nice": false, "zero": false}, "axis": null}}},
       {"mark": {"type": "text", "align": "left", "baseline": "middle", "fontSize": 18, "font": "Liberation Sans", "color": "black", "clip": false}, "encoding": {"x": {"field": "tx", "type": "quantitative"}, "y": {"field": "ym", "type": "quantitative", "scale": {"domain": [0, 2], "nice": false, "zero": false}, "axis": null}, "text": {"field": "label"}}}
      ]
     }
    ],
    "resolve": {"scale": {"y": "independent"}}
   }
  ]
 }
]
}
